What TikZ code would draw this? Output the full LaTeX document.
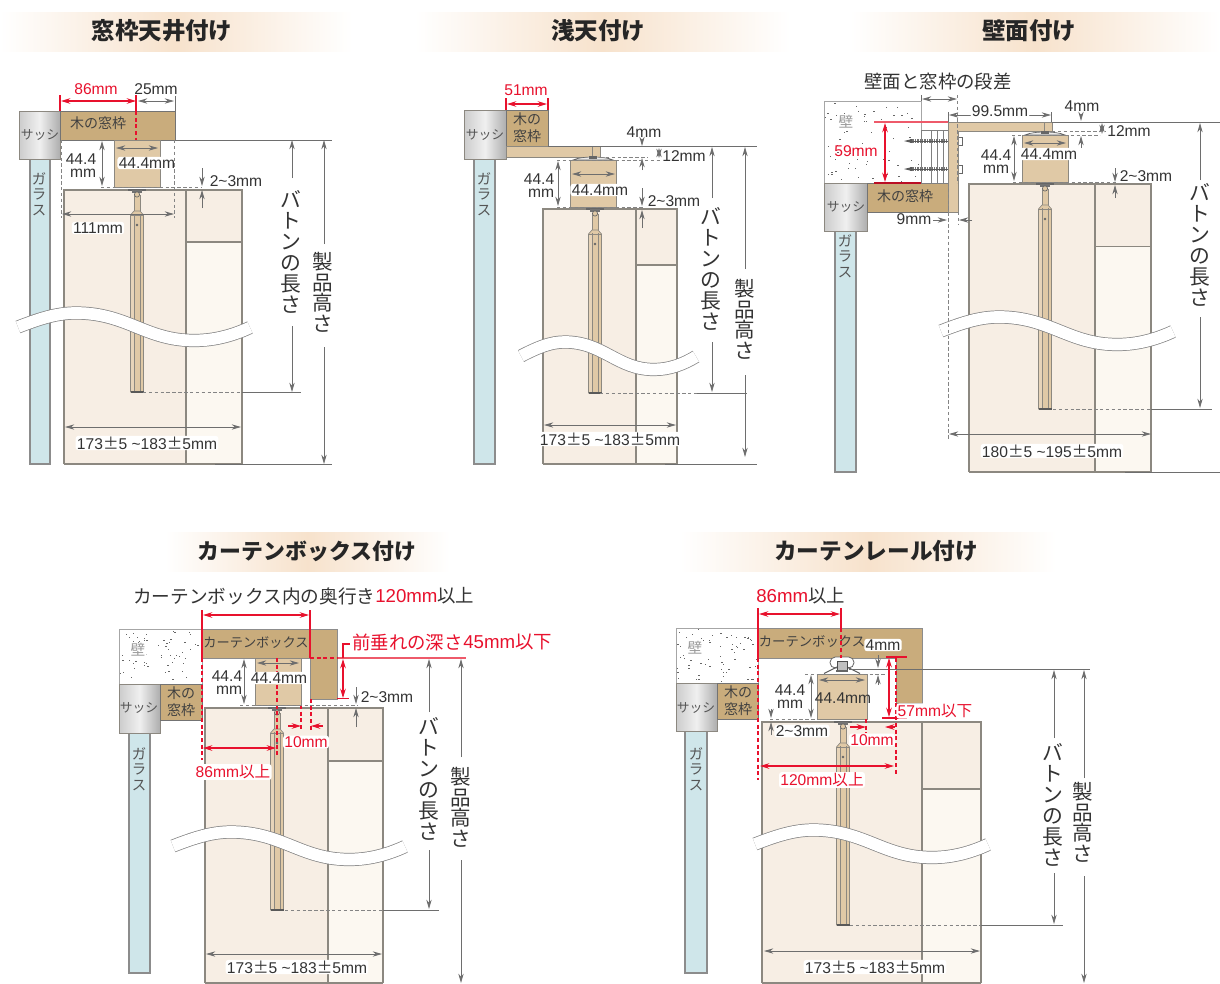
\documentclass[tikz,border=0pt]{standalone}
\usepackage{fontspec}
\setmainfont{Liberation Sans}
\newfontfamily\jpf{Noto Sans CJK JP}
\usetikzlibrary{arrows.meta}
\definecolor{dimc}{HTML}{6E6E6E}
\definecolor{edgec}{HTML}{8C8880}
\definecolor{redc}{HTML}{E8112D}
\definecolor{pinkc}{HTML}{EE5A6A}
\definecolor{woodc}{HTML}{C9AC7C}
\definecolor{railc}{HTML}{E0C9A6}
\definecolor{glassc}{HTML}{CFE6EA}
\definecolor{blinda}{HTML}{F7EEE4}
\definecolor{blindb}{HTML}{FCF8F1}
\definecolor{headc}{HTML}{F7E2CC}
\definecolor{textc}{HTML}{333333}
\definecolor{softc}{HTML}{555555}
\newcommand\fs[1]{\fontsize{#1}{#1}\selectfont}
\newcommand\tl{\textasciitilde}
\newcommand\pmj{{\jpf ±}}
\newcount\nodeno
\newcommand\lbl[4][]{\global\advance\nodeno by 1 \node[lab,#1] (t\the\nodeno) at (#2,#3) {#4};}
\newcommand\hlb[4][]{\global\advance\nodeno by 1 \node[lab,fill=white,rounded corners=2pt,inner xsep=1pt,inner ysep=0.6pt,#1] (t\the\nodeno) at (#2,#3) {#4};}
\newcommand\mmlb[4]{\global\advance\nodeno by 1 \node[inner sep=0pt,text=textc,align=#4,font=\fontsize{11.7pt}{#3}\selectfont] (t\the\nodeno) at (#1,#2) {44.4\\mm};}
\newcommand\vlb[6][textc]{\global\advance\nodeno by 1 \node[anchor=north,inner sep=0pt,align=center,text=#1,font=\jpf\fontsize{#4}{#5}\selectfont] (t\the\nodeno) at (#2,#3) {#6};}
\newcommand\headtxt[4]{\global\advance\nodeno by 1 \node[inner sep=0pt,text=black!85,font=\jpf\bfseries\fontsize{#3}{#3}\selectfont] (t\the\nodeno) at (#1,#2) {#4};}
\newcommand\woodtwo[2]{\global\advance\nodeno by 1 \node[inner sep=0pt,align=center,font=\jpf\fontsize{10.5pt}{13pt}\selectfont,text=black!75] (t\the\nodeno) at (#1,#2) {木の\\窓枠};}
\newcommand\blindp[6]{% xl xd xr yt yd yb
  \fill[blinda] (#1,#4) rectangle (#2,#6);
  \fill[blinda] (#2,#4) rectangle (#3,#5);
  \fill[blindb] (#2,#5) rectangle (#3,#6);
  \draw[edge] (#1,#6) -- (#1,#4) -- (#3,#4) -- (#3,#6);
  \draw[edge] (#1,#6) -- (#3,#6);
  \draw[edge] (#2,#4) -- (#2,#6);
  \draw[edge] (#2,#5) -- (#3,#5);}
\newcommand\batten[3]{% cx yt yb
  \fill[railc] (#1-3,#2+5) rectangle (#1+3,#2+22);
  \draw[edge,line width=.5pt] (#1-3,#2+5) -- (#1-3,#2+21) (#1+3,#2+5) -- (#1+3,#2+21);
  \fill[black!60] (#1-9,#2-1.5) rectangle (#1+9,#2+.8);
  \fill[black!55] (#1-5,#2) rectangle (#1+5,#2+2.5);
  \draw[fill=railc,draw=black!60,line width=.5pt] (#1,#2+4.5) circle (2.6);
  \draw[fill=railc,draw=edgec,line width=.5pt] (#1-6.5,#2+25) -- (#1-6.5,#3) -- (#1+6.5,#3) -- (#1+6.5,#2+25) -- (#1+3,#2+21) -- (#1-3,#2+21) -- cycle;
  \fill[blinda!30!railc] (#1-6,#2+26) rectangle (#1-3,#3);
  \draw[edge,line width=.4pt] (#1-3,#2+24) -- (#1-3,#3) (#1+3,#2+24) -- (#1+3,#3) (#1-6.5,#2+25) -- (#1+6.5,#2+25);
  \draw[black!65,line width=.9pt] (#1-6.5,#3) -- (#1+6.5,#3);
  \fill[black!60] (#1,#2+35) circle (1.4);}
\newcommand\wavecut[3]{% x0 y-center w
  \foreach \ww/\cc in {9.9pt/dimc!85,8.8pt/white}{
  \draw[line width=\ww,\cc] (#1,#2) .. controls (#1+0.1*#3,#2-9) and (#1+0.17*#3,#2-14) .. (#1+0.25*#3,#2-14)
   .. controls (#1+0.47*#3,#2-14) and (#1+0.55*#3,#2+13.5) .. (#1+0.76*#3,#2+13.5)
   .. controls (#1+0.85*#3,#2+13.5) and (#1+0.93*#3,#2+8) .. (#1+#3,#2+0.5);}}
\newcommand\sash[4]{\draw[draw=edgec,line width=.7pt,left color=black!20,right color=black!32,middle color=black!6] (#1,#2) rectangle (#3,#4);}
\newcommand\glass[4]{\draw[draw=black!45,line width=.9pt,fill=glassc] (#1,#2) -- (#1,#4) -- (#3,#4) -- (#3,#2);}
\newcommand\wood[4]{\draw[draw=black!55,line width=.6pt,fill=woodc] (#1,#2) rectangle (#3,#4);}
\newcommand\railb[4]{\draw[draw=edgec,line width=.7pt,fill=railc] (#1,#2) rectangle (#3,#4);}
\newcommand\capb[3]{% cx ybase hw
  \draw[draw=black!60,line width=.5pt,fill=black!8] (#1-#3,#2) .. controls (#1-#3+8,#2-4) and (#1+#3-8,#2-4) .. (#1+#3,#2) -- cycle;
  \fill[black!60] (#1-4,#2-4) rectangle (#1+4,#2-1.5);}
\newcommand\wall[5]{%
  \fill[white] (#1,#2) rectangle (#3,#4);
  \pgfmathsetseed{#5}
  \foreach \i in {1,...,62}{
    \pgfmathsetmacro\px{#1+rnd*(#3-#1-2)}
    \pgfmathsetmacro\py{#2+1+rnd*(#4-#2-3)}
    \fill[black!60] (\px,\py) rectangle +(1.3,0.8);}
  \draw[black!35,line width=.4pt] (#1,#2) rectangle (#3,#4);}
\newcommand\headbar[4]{\shade[left color=white,right color=white,middle color=headc] (#1,#2) rectangle (#3,#4);}
\tikzset{
  lab/.style={inner sep=0pt,text=textc,font=\fs{11.7pt}},
  edge/.style={draw=edgec,line width=.8pt},
  dl/.style={draw=dimc,line width=.6pt},
  da/.style={dl,-{Stealth[length=7pt,width=4pt]}},
  dd/.style={dl,{Stealth[length=7pt,width=4pt]}-{Stealth[length=7pt,width=4pt]}},
  ds/.style={draw=dimc!85,line width=.6pt,dash pattern=on 2.6pt off 1.8pt},
  rl/.style={draw=redc,line width=.8pt},
  rd/.style={rl,{Stealth[length=7pt,width=4.2pt]}-{Stealth[length=7pt,width=4.2pt]}},
  ra/.style={rl,-{Stealth[length=7pt,width=4.2pt]}},
  rs/.style={rl,dash pattern=on 3pt off 2pt},
  rlab/.style={text=redc},
  jl/.style={font=\jpf\fs{10.5pt},text=black!75},
  sl/.style={font=\jpf\fs{9.6pt},text=softc},
  big/.style={font=\fs{14pt}},
}
\begin{document}
\begin{tikzpicture}[x=.75pt,y=-.75pt]
\useasboundingbox (0,0) rectangle (1220,983);
\fill[white] (0,0) rectangle (1220,983);
% ---------- headers
\headbar{0}{12}{352}{51}
\headbar{415}{12}{790}{51}
\headbar{850}{12}{1220}{51}
\headbar{165}{532}{450}{571}
\headbar{680}{532}{1056}{571}
\headtxt{162}{31}{17.6pt}{窓枠天井付け}
\headtxt{598}{31}{17.6pt}{浅天付け}
\headtxt{1029}{31}{17.6pt}{壁面付け}
\headtxt{307}{551}{16.4pt}{カーテンボックス付け}
\headtxt{876}{551}{17pt}{カーテンレール付け}
% ========== panel 1
\glass{30}{159}{50}{464}
\sash{19}{111}{60}{159}
\wood{60}{111}{175}{140}
\railb{114}{140}{160}{187}
\blindp{64}{186}{242}{190}{242}{464}
\batten{137}{190}{392}
\wavecut{18}{327}{232}
\lbl[sl]{40}{135}{サッシ}
\vlb[softc]{39}{172}{10.8pt}{11.8pt}{ガ\\ラ\\ス}
\lbl[jl]{98}{123}{木の窓枠}
\draw[dl,line width=.75pt] (175,140) -- (332,140);
\draw[dl,line width=.7pt] (215,464) -- (332,464);
\draw[ds] (143,392) -- (242,392); \draw[dl] (242,392) -- (301,392);
\vlb{291}{190}{15.6pt}{15.8pt}{バ\\ト\\ン\\の\\長\\さ}
\vlb{323}{252}{15.4pt}{15.5pt}{製\\品\\高\\さ}
\draw[da] (292,178) -- (292,140); \draw[da] (292,326) -- (292,392);
\draw[da] (324,244) -- (324,140); \draw[da] (324,347) -- (324,464);
\draw[rl] (60,95) -- (60,111) (136,95) -- (136,111); \draw[rs] (136,111) -- (136,140);
\draw[rd] (61,101) -- (136,101);
\draw[dl] (175,96) -- (175,111); \draw[dd] (138,101) -- (174,101);
\lbl[rlab]{96}{89}{86mm}
\lbl{156}{89}{25mm}
\draw[dd] (102,141) -- (102,186);
\mmlb{81}{166}{9.6pt}{right}
\draw[dd] (116,148) -- (158,148);
\hlb{147}{163}{44.4mm}
\draw[ds] (101,187) -- (202,187);
\draw[da] (202,168) -- (202,186); \draw[da] (202,208) -- (202,190);
\lbl{236}{181}{2\tl 3mm}
\draw[ds] (61,140) -- (61,218); \draw[ds] (174,140) -- (174,218);
\draw[dd] (62,214) -- (174,214);
\hlb{98}{228}{111mm}
\draw[dd] (65,427) -- (241,427);
\hlb{147}{443}{173\pmj 5 \tl 183\pmj 5mm}
% ========== panel 2
\glass{474}{159}{495}{464}
\sash{464}{110}{506}{159}
\wood{506}{110}{548}{146}
\draw[draw=edgec,line width=.6pt,fill=railc] (506,146) -- (600,146) -- (600,157) -- (506,157) -- cycle;
\draw[edgec,line width=.5pt] (592,146) -- (592,157);
\capb{593}{160}{20}
\railb{570}{160}{616}{207}
\blindp{543}{636}{677}{209}{265}{464}
\batten{595}{209}{393}
\wavecut{521}{356}{175}
\lbl[sl]{485}{135}{サッシ}
\vlb[softc]{484}{172}{10.8pt}{11.8pt}{ガ\\ラ\\ス}
\woodtwo{527}{128}
\draw[dl,line width=.75pt] (548,146) -- (757,146);
\draw[dl,line width=.7pt] (665,464) -- (757,464);
\draw[ds] (600,393) -- (697,393); \draw[dl] (697,393) -- (747,393);
\vlb{711}{207}{15.6pt}{15.8pt}{バ\\ト\\ン\\の\\長\\さ}
\vlb{745}{279}{15.4pt}{15.5pt}{製\\品\\高\\さ}
\draw[da] (712,198) -- (712,147); \draw[da] (712,342) -- (712,392);
\draw[da] (745,269) -- (745,147); \draw[da] (745,375) -- (745,457);
\draw[rd] (507,104) -- (547,104);
\draw[rl] (506,98) -- (506,110) (548,98) -- (548,110);
\lbl[rlab]{526}{90}{51mm}
\lbl{644}{132}{4mm}
\draw[da] (642,140) -- (642,146); \draw[da] (642,170) -- (642,158);
\lbl{684}{156}{12mm}
\draw[dd] (659,148) -- (659,158);
\draw[ds] (557,160) -- (662,160);
\draw[ds] (600,157) -- (648,157);
\draw[dd] (558,161) -- (558,206);
\mmlb{539}{185.5}{9.6pt}{right}
\draw[dd] (572,174) -- (615,174);
\hlb{600}{190}{44.4mm}
\draw[ds] (557,207) -- (643,207);
\draw[da] (642,188) -- (642,206); \draw[da] (642,228) -- (642,210);
\lbl{674}{201}{2\tl 3mm}
\draw[dd] (544,425) -- (676,425);
\hlb{610}{439}{173\pmj 5 \tl 183\pmj 5mm}
% ========== panel 3
\wall{824.5}{101}{921}{183}{7}
\glass{835}{231}{856}{472}
\sash{824.5}{183}{867}{231}
\wood{867}{183}{958}{212}
\draw[draw=black!50,line width=.5pt,fill=white] (921,130) rectangle (948,183);
\draw[black!50,line width=.5pt] (931,130) -- (931,183) (937,130) -- (937,183) (943,130) -- (943,183);
\foreach \yy in {141,169}{
  \draw[black!55,line width=2.4pt,dash pattern=on 1pt off .8pt] (910,\yy) -- (948,\yy);
  \draw[black!65,line width=.6pt] (907,\yy) -- (948,\yy);
  \fill[black!65] (904,\yy) -- (912,\yy-2) -- (912,\yy+2) -- cycle;
  \draw[black!60,fill=white,line width=.5pt] (958,\yy-4) rectangle (962,\yy+4);}
\draw[draw=edgec,line width=.6pt,fill=railc] (948,212) -- (948,122) -- (1052,122) -- (1052,131) -- (958,131) -- (958,212) -- cycle;
\draw[edgec,line width=.5pt] (1044,122) -- (1044,131);
\capb{1045}{135}{20}
\railb{1022}{135}{1068}{182}
\blindp{969}{1095}{1151}{184}{246.5}{472}
\batten{1045}{184}{409}
\wavecut{941}{331}{232}
\lbl[sl]{846}{207}{サッシ}
\vlb[softc]{845}{234}{10.8pt}{11.8pt}{ガ\\ラ\\ス}
\hlb[jl,text=black!40,font=\jpf\fs{11pt}]{846}{122}{壁}
\lbl[jl]{905}{196}{木の窓枠}
\draw[dl,line width=.75pt] (1052,122) -- (1220,122);
\draw[dl,line width=.7pt] (1125,472) -- (1220,472);
\draw[ds] (1053,409) -- (1151,409); \draw[dl] (1151,409) -- (1212,409);
\vlb{1200}{183}{15.6pt}{15.8pt}{バ\\ト\\ン\\の\\長\\さ}
\draw[da] (1200,180) -- (1200,123); \draw[da] (1200,317) -- (1200,408);
\lbl[font=\jpf\fs{13.8pt}]{938}{82}{壁面と窓枠の段差}
\draw[dd] (922,99) -- (957,99);
\draw[dl] (921,95) -- (921,101); \draw[ds] (957,95) -- (957,183);
\draw[dd] (949,115) -- (1051,115);
\hlb{1000}{111}{99.5mm}
\draw[dl] (948,112) -- (948,122) (1051,112) -- (1051,122);
\lbl{1082}{106}{4mm}
\draw[da] (1081,114) -- (1081,121); \draw[da] (1081,148) -- (1081,136);
\lbl{1129}{131}{12mm}
\draw[dd] (1102,123) -- (1102,134);
\draw[ds] (1052,131) -- (1105,131); \draw[ds] (1012,135) -- (1100,135);
\draw[pinkc,line width=.9pt] (874,122) -- (948,122);
\draw[redc!80!black,line width=1.2pt] (874,183) -- (921,183);
\draw[rd] (885,123) -- (885,182);
\lbl[rlab]{856}{151}{59mm}
\draw[dd] (1014,136) -- (1014,181);
\mmlb{996}{161.5}{9.6pt}{center}
\draw[dd] (1024,143) -- (1066,143);
\hlb{1049}{154}{44.4mm}
\draw[ds] (1013,182) -- (1117,182);
\draw[da] (1115,168) -- (1115,182); \draw[da] (1115,198) -- (1115,185);
\lbl{1146}{176}{2\tl 3mm}
\lbl{914}{219}{9mm}
\draw[da] (933,220) -- (947,220); \draw[da] (972,220) -- (959,220);
\draw[ds] (948,183) -- (948,440);
\draw[ds] (958,212) -- (958,224);
\draw[dd] (949,434) -- (1151,434);
\hlb{1052}{451}{180\pmj 5 \tl 195\pmj 5mm}
% ========== panel 4
\wall{119}{629}{202}{684}{11}
\glass{129}{733}{150}{973}
\sash{119}{684}{160}{733}
\wood{160}{684}{202}{720}
\draw[draw=black!45,line width=.7pt,fill=woodc] (202,629) -- (337,629) -- (337,699) -- (310,699) -- (310,658) -- (202,658) -- cycle;
\railb{255}{658}{301}{705}
\blindp{205}{328}{383}{708}{761}{983}
\batten{277}{708}{910}
\wavecut{173}{846}{232}
\lbl[sl]{139}{708}{サッシ}
\vlb[softc]{139}{747}{10.8pt}{11.8pt}{ガ\\ラ\\ス}
\hlb[jl,text=black!40,font=\jpf\fs{11pt}]{138}{650}{壁}
\lbl[jl,font=\jpf\fs{9.9pt}]{256}{643}{カーテンボックス}
\woodtwo{181}{702}
\draw[pinkc,line width=1pt] (337,658) -- (466,658);
\draw[ds] (285,910) -- (383,910); \draw[dl] (383,910) -- (439,910);
\vlb{429}{717}{15.6pt}{15.8pt}{バ\\ト\\ン\\の\\長\\さ}
\vlb{461}{767}{15.4pt}{15.5pt}{製\\品\\高\\さ}
\draw[da] (429,712) -- (429,659); \draw[da] (429,850) -- (429,909);
\draw[da] (461,757) -- (461,659); \draw[da] (461,860) -- (461,983);
\lbl[big,anchor=west,font=\jpf\fs{14pt}]{133}{596}{カーテンボックス内の奥行き}
\lbl[big,anchor=west,rlab]{375}{596}{120mm}
\lbl[big,anchor=west,font=\jpf\fs{13.8pt}]{437}{596}{以上}
\draw[rd] (203,615) -- (309,615);
\draw[rl] (202,610) -- (202,658) (310,610) -- (310,658);
\draw[rs] (202,658) -- (202,760);
\draw[rs] (277,658) -- (277,757);
\draw[rs] (311,699) -- (311,730) (301,705) -- (301,730);
\draw[rs] (310,658) -- (337,658);
\lbl[anchor=west,font=\jpf\fs{13.8pt},rlab]{352}{642}{前垂れの深さ}
\lbl[anchor=west,big,rlab]{463}{642}{45mm}
\lbl[anchor=west,font=\jpf\fs{13.8pt},rlab]{515}{642}{以下}
\draw[rl] (350,644) -- (343,644) -- (343,658);
\draw[rd] (343,659) -- (343,698);
\draw[rl] (337,698.5) -- (349,698.5);
\draw[dd] (244,659) -- (244,704);
\mmlb{227}{682.5}{9.6pt}{right}
\draw[dd] (257,663) -- (299,663);
\hlb{279}{678}{44.4mm}
\draw[ds] (240,705) -- (358,705);
\draw[da] (356,687) -- (356,704); \draw[da] (356,727) -- (356,708);
\lbl{387}{697}{2\tl 3mm}
\draw[ra] (288,726) -- (301,726);
\draw[ra] (323,726) -- (311,726);
\hlb[rlab]{306}{742}{10mm}
\draw[rd] (203,748) -- (276,748);
\hlb[rlab]{233}{772}{86mm{\jpf 以上}}
\draw[dd] (206,954) -- (382,954);
\hlb{297}{967}{173\pmj 5 \tl 183\pmj 5mm}
% ========== panel 5
\wall{676}{628}{758}{683}{13}
\glass{685}{731}{707}{973}
\sash{676}{683}{717}{731}
\wood{717}{683}{758}{719}
\draw[draw=black!45,line width=.7pt,fill=woodc] (758,628) -- (922,628) -- (922,703) -- (896,703) -- (896,658) -- (758,658) -- cycle;
\railb{817}{674}{867}{719}
\draw[draw=black!60,line width=.6pt,fill=white,rounded corners=4pt] (830,657) rectangle (854,668);
\draw[draw=black!65,line width=.7pt] (824,673.5) .. controls (830,670) .. (837,667) (860,673.5) .. controls (854,670) .. (847,667);
\draw[draw=black!70,line width=.7pt,fill=black!25] (837,661) rectangle (847,670);
\fill[black!60] (836,670) rectangle (848,672);
\blindp{762}{922}{981}{722}{789}{983}
\batten{843}{722}{925}
\wavecut{755}{844}{233}
\lbl[sl]{696}{708}{サッシ}
\vlb[softc]{696}{747}{10.8pt}{11.8pt}{ガ\\ラ\\ス}
\hlb[jl,text=black!40,font=\jpf\fs{11pt}]{695}{648}{壁}
\lbl[jl,font=\jpf\fs{10pt}]{812}{642}{カーテンボックス}
\woodtwo{738}{701}
\draw[dl,line width=.75pt] (849,669) -- (1090,669);
\draw[ds] (850,925) -- (981,925); \draw[dl] (981,925) -- (1063,925);
\vlb{1053}{743}{15.6pt}{15.8pt}{バ\\ト\\ン\\の\\長\\さ}
\vlb{1083}{782}{15.4pt}{15.5pt}{製\\品\\高\\さ}
\draw[da] (1054,738) -- (1054,670); \draw[da] (1054,873) -- (1054,924);
\draw[da] (1084,778) -- (1084,670); \draw[da] (1084,876) -- (1084,983);
\lbl[big,anchor=west,rlab]{756}{596}{86mm}
\lbl[anchor=west,font=\jpf\fs{13.8pt}]{808}{596}{以上}
\draw[rd] (759,614) -- (840,614);
\draw[rl] (758,608) -- (758,658) (841,608) -- (841,628);
\draw[rs] (841,628) -- (841,658);
\draw[rs] (758,658) -- (758,780) (896,703) -- (896,776);
\draw[rs] (896,658) -- (896,703);
\draw[rs] (866,719) -- (866,733);
\hlb{883}{645}{4mm}
\draw[da] (878,655) -- (878,668); \draw[da] (878,685) -- (878,675);
\draw[ds] (805,674) -- (885,674);
\draw[rl] (886,657) -- (907,657); \draw[rl] (882,718) -- (907,718);
\draw[rd] (889,658) -- (889,717);
\hlb[rlab]{935}{711}{57mm{\jpf 以下}}
\draw[dd] (811,675) -- (811,718);
\mmlb{790}{696.5}{9.6pt}{center}
\draw[dd] (819,680) -- (865,680);
\lbl{843}{698}{44.4mm}
\draw[ds] (770,719) -- (817,719);
\draw[da] (771,709) -- (771,718); \draw[da] (771,735) -- (771,722);
\hlb{802}{731}{2\tl 3mm}
\draw[ra] (850,727) -- (866,727);
\draw[ra] (895,727) -- (885,727);
\hlb[rlab]{872}{740}{10mm}
\draw[rd] (760,766) -- (894,766);
\hlb[rlab]{822}{780}{120mm{\jpf 以上}}
\draw[dd] (764,951) -- (980,951);
\hlb{875}{967}{173\pmj 5 \tl 183\pmj 5mm}
\end{tikzpicture}
\end{document}
